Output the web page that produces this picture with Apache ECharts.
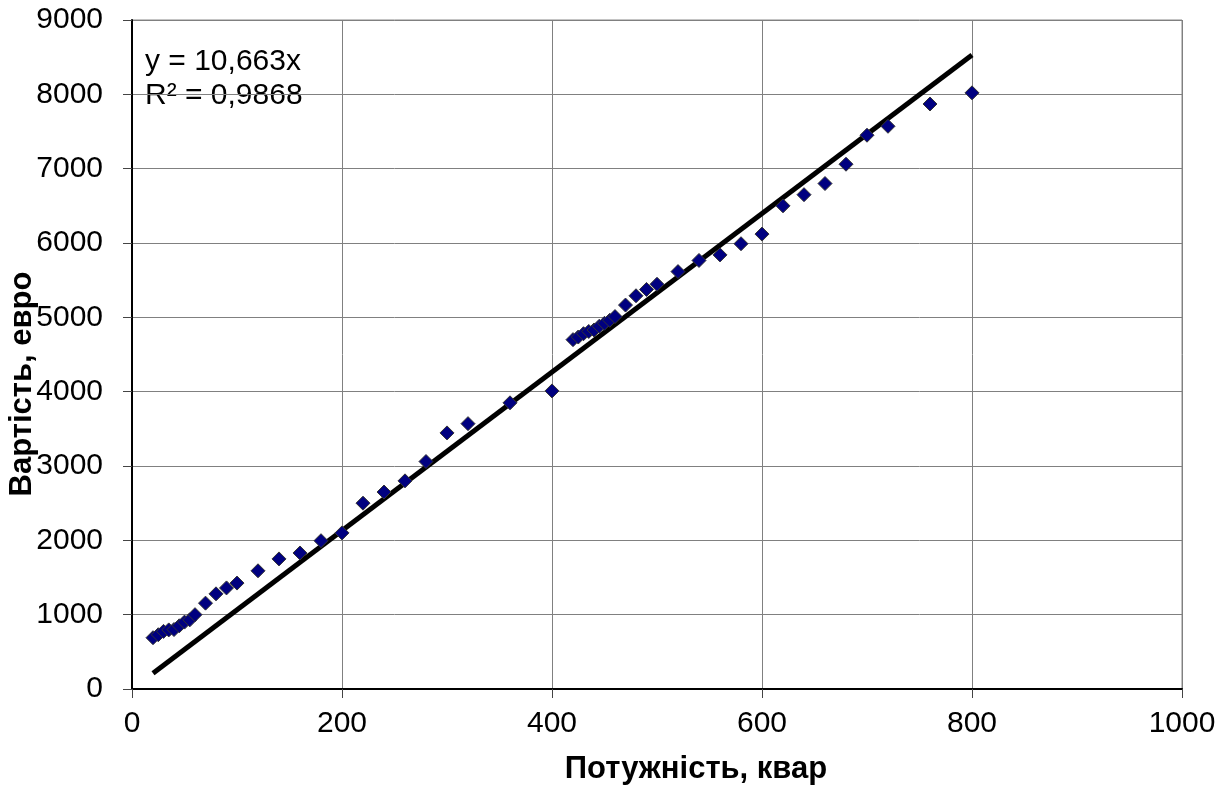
<!DOCTYPE html>
<html>
<head>
<meta charset="utf-8">
<script src="https://cdn.jsdelivr.net/npm/echarts@6/dist/echarts.min.js"></script>
<style>
html,body{margin:0;padding:0;background:#fff;}
#chart{width:1228px;height:791px;}
</style>
</head>
<body>
<div id="chart"></div>
<script>
// Capacity (kvar) and cost (euro) of each observed unit
const capacity = [20,25,30,35,40,45,50,55,60,70,80,90,100,120,140,160,180,200,220,240,260,280,300,320,360,400,
  420,425,430,435,440,445,450,455,460,470,480,490,500,520,540,560,580,600,620,640,660,680,700,720,760,800];
const cost = [690,730,775,795,800,850,900,930,1000,1155,1280,1360,1425,1590,1750,1830,1995,2100,2500,2650,2800,3060,3445,3570,3850,4010,
  4700,4735,4780,4810,4830,4880,4920,4960,5010,5165,5290,5375,5445,5615,5765,5840,5990,6120,6500,6650,6800,7060,7450,7570,7870,8020];
// Linear trend line end points (y = 10,663x)
const trendX = [20, 800];
const trendY = [213, 8530];
const equationLines = ['y = 10,663x', 'R² = 0,9868'];
const xTitle = 'Потужність, квар';
const yTitle = 'Вартість, евро';

const pts = capacity.map((c, i) => [c, cost[i]]);
const trend = trendX.map((x, i) => [x, trendY[i]]);

const chart = echarts.init(document.getElementById('chart'), null, {renderer: 'canvas'});
const FONT = 'Liberation Sans, Arial, sans-serif';
const plain = v => String(v);
chart.setOption({
  animation: false,
  backgroundColor: '#fff',
  grid: {left: 132, right: 46, top: 20, bottom: 102, show: true, borderColor: '#888', borderWidth: 1},
  xAxis: {
    type: 'value', min: 0, max: 1000, interval: 200,
    axisLine: {lineStyle: {color: '#000', width: 2}},
    axisTick: {show: true, inside: false, length: 9, lineStyle: {color: '#444'}},
    axisLabel: {color: '#000', fontSize: 30, fontFamily: FONT, margin: 20, formatter: plain},
    splitLine: {show: true, lineStyle: {color: '#808080', width: 1}}
  },
  yAxis: {
    type: 'value', min: 0, max: 9000, interval: 1000,
    axisLine: {lineStyle: {color: '#000', width: 2}},
    axisTick: {show: true, inside: false, length: 9, lineStyle: {color: '#444'}},
    axisLabel: {color: '#000', fontSize: 30, fontFamily: FONT, margin: 29, formatter: plain},
    splitLine: {show: true, lineStyle: {color: '#808080', width: 1}}
  },
  graphic: [
    {type: 'text', left: 145, top: 45, style: {text: equationLines.join('\n'), font: '30px ' + FONT, fill: '#000', lineHeight: 34}},
    {type: 'text', x: 696, y: 769, style: {text: xTitle, font: 'bold 31px ' + FONT, fill: '#000', align: 'center', verticalAlign: 'middle'}},
    {type: 'text', x: 22, y: 384, rotation: Math.PI / 2, style: {text: yTitle, font: 'bold 31px ' + FONT, fill: '#000', align: 'center', verticalAlign: 'middle'}}
  ],
  series: [
    {
      type: 'line', data: trend, symbol: 'none', z: 2,
      lineStyle: {color: '#000', width: 5}
    },
    {
      type: 'scatter', data: pts, symbol: 'diamond', symbolSize: 14, z: 3,
      itemStyle: {color: '#000080', opacity: 1, borderColor: '#333', borderWidth: 1}
    }
  ]
});
</script>
</body>
</html>
